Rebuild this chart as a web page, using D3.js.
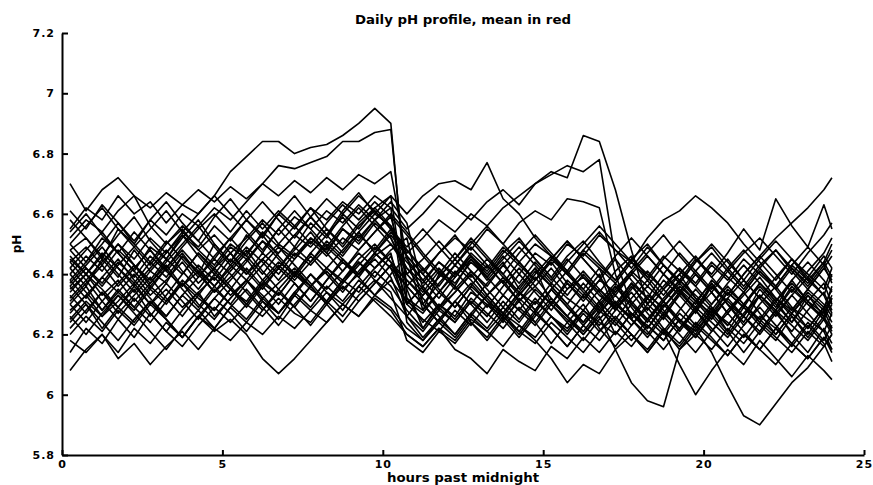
<!DOCTYPE html>
<html>
<head>
<meta charset="utf-8">
<script src="https://cdn.jsdelivr.net/npm/d3@7"></script>
<style>
body { margin: 0; background: #fff; }
</style>
</head>
<body>
<script>
// sample times (hours past midnight)
var hours = [0.25,0.75,1.25,1.75,2.25,2.75,3.25,3.75,4.25,4.75,
  5.25,5.75,6.25,6.75,7.25,7.75,8.25,8.75,9.25,9.75,
  10.25,10.75,11.25,11.75,12.25,12.75,13.25,13.75,14.25,14.75,
  15.25,15.75,16.25,16.75,17.25,17.75,18.25,18.75,19.25,19.75,
  20.25,20.75,21.25,21.75,22.25,22.75,23.25,23.75,24];

// one pH profile per day
var d01 = [6.55,6.62,6.58,6.66,6.60,6.64,6.57,6.63,6.60,6.66,6.74,6.79,6.84,6.84,6.80,6.82,6.83,6.86,6.90,6.95,6.90,6.32,6.28,6.40,6.36,6.45,6.38,6.44,6.35,6.42,6.30,6.38,6.33,6.40,6.28,6.36,6.30,6.25,6.34,6.28,6.37,6.30,6.26,6.35,6.29,6.38,6.31,6.27,6.33];
var d02 = [6.48,6.52,6.45,6.55,6.50,6.58,6.53,6.60,6.56,6.62,6.58,6.64,6.70,6.76,6.75,6.77,6.79,6.84,6.84,6.87,6.88,6.35,6.22,6.30,6.26,6.34,6.30,6.24,6.32,6.27,6.35,6.29,6.24,6.31,6.20,6.27,6.22,6.30,6.24,6.19,6.27,6.21,6.29,6.23,6.18,6.26,6.20,6.28,6.22];
var d03 = [6.30,6.36,6.28,6.34,6.40,6.33,6.38,6.44,6.37,6.42,6.47,6.40,6.45,6.50,6.46,6.52,6.48,6.55,6.51,6.58,6.62,6.55,6.60,6.66,6.62,6.58,6.64,6.68,6.63,6.70,6.74,6.72,6.86,6.84,6.68,6.48,6.30,6.38,6.33,6.27,6.36,6.30,6.24,6.33,6.28,6.36,6.30,6.26,6.32];
var d04 = [6.42,6.36,6.45,6.39,6.48,6.41,6.37,6.46,6.40,6.50,6.44,6.53,6.47,6.55,6.49,6.57,6.52,6.60,6.55,6.62,6.66,6.60,6.66,6.70,6.71,6.68,6.77,6.65,6.60,6.52,6.46,6.40,6.35,6.42,6.30,6.37,6.28,6.35,6.40,6.32,6.26,6.34,6.29,6.37,6.31,6.24,6.33,6.28,6.36];
var d05 = [6.35,6.40,6.33,6.38,6.31,6.37,6.43,6.36,6.41,6.34,6.39,6.45,6.38,6.44,6.40,6.47,6.42,6.38,6.45,6.50,6.44,6.30,6.36,6.29,6.34,6.40,6.33,6.38,6.31,6.36,6.42,6.35,6.39,6.33,6.29,6.37,6.32,6.40,6.35,6.30,6.38,6.33,6.40,6.46,6.52,6.57,6.62,6.68,6.72];
var d06 = [6.50,6.44,6.52,6.47,6.41,6.49,6.45,6.53,6.48,6.43,6.50,6.46,6.54,6.49,6.45,6.52,6.47,6.55,6.50,6.57,6.52,6.40,6.34,6.41,6.37,6.44,6.39,6.46,6.40,6.47,6.43,6.50,6.46,6.53,6.48,6.44,6.52,6.58,6.61,6.66,6.62,6.57,6.50,6.44,6.38,6.45,6.40,6.35,6.42];
var d07 = [6.28,6.33,6.26,6.31,6.37,6.30,6.35,6.29,6.34,6.39,6.33,6.38,6.32,6.37,6.42,6.36,6.41,6.35,6.40,6.45,6.39,6.26,6.21,6.28,6.24,6.31,6.26,6.33,6.28,6.35,6.30,6.37,6.32,6.38,6.34,6.41,6.36,6.43,6.38,6.45,6.40,6.47,6.55,6.48,6.65,6.56,6.49,6.63,6.55];
var d08 = [6.08,6.15,6.20,6.14,6.22,6.17,6.24,6.19,6.26,6.21,6.25,6.20,6.12,6.07,6.12,6.18,6.24,6.30,6.26,6.33,6.38,6.31,6.27,6.34,6.29,6.36,6.31,6.27,6.34,6.30,6.37,6.32,6.28,6.35,6.30,6.26,6.33,6.29,6.36,6.31,6.27,6.34,6.29,6.25,6.32,6.28,6.35,6.30,6.26];
var d09 = [6.25,6.31,6.26,6.33,6.28,6.35,6.30,6.37,6.32,6.28,6.35,6.31,6.38,6.33,6.40,6.36,6.42,6.37,6.44,6.39,6.46,6.32,6.24,6.30,6.25,6.32,6.27,6.22,6.29,6.24,6.31,6.26,6.21,6.28,6.23,6.30,6.25,6.20,6.27,6.22,6.14,6.03,5.93,5.90,5.97,6.04,6.09,6.16,6.20];
var d10 = [6.38,6.32,6.39,6.34,6.29,6.36,6.31,6.38,6.33,6.28,6.35,6.30,6.37,6.33,6.40,6.35,6.31,6.38,6.34,6.41,6.36,6.28,6.22,6.29,6.24,6.31,6.26,6.33,6.28,6.23,6.30,6.25,6.20,6.26,6.15,6.04,5.98,5.96,6.15,6.20,6.28,6.23,6.30,6.25,6.20,6.27,6.22,6.29,6.24];
var d11 = [6.45,6.40,6.47,6.42,6.37,6.44,6.39,6.46,6.41,6.36,6.43,6.38,6.45,6.40,6.47,6.43,6.49,6.44,6.40,6.47,6.42,6.30,6.25,6.21,6.28,6.23,6.30,6.26,6.20,6.27,6.22,6.16,6.23,6.18,6.25,6.20,6.14,6.21,6.10,6.00,6.08,6.15,6.10,6.18,6.12,6.06,6.13,6.08,6.05];
var d12 = [6.20,6.26,6.21,6.28,6.23,6.30,6.25,6.19,6.26,6.22,6.29,6.24,6.31,6.27,6.33,6.28,6.34,6.30,6.36,6.31,6.26,6.20,6.16,6.22,6.15,6.12,6.07,6.15,6.11,6.08,6.16,6.12,6.19,6.14,6.21,6.16,6.23,6.18,6.25,6.20,6.15,6.22,6.17,6.24,6.19,6.14,6.21,6.16,6.20];
var d13 = [6.33,6.27,6.34,6.29,6.24,6.31,6.26,6.33,6.28,6.35,6.30,6.25,6.32,6.27,6.34,6.29,6.36,6.31,6.38,6.33,6.29,6.22,6.18,6.24,6.19,6.26,6.21,6.16,6.23,6.18,6.12,6.04,6.10,6.07,6.15,6.20,6.14,6.21,6.16,6.23,6.18,6.13,6.20,6.15,6.22,6.17,6.12,6.19,6.14];
var d14 = [6.18,6.14,6.20,6.12,6.17,6.10,6.16,6.21,6.15,6.22,6.18,6.24,6.20,6.26,6.22,6.28,6.24,6.30,6.26,6.32,6.28,6.20,6.16,6.22,6.18,6.25,6.21,6.27,6.23,6.19,6.26,6.22,6.28,6.24,6.20,6.27,6.23,6.18,6.25,6.21,6.28,6.24,6.19,6.26,6.22,6.29,6.25,6.21,6.27];
var d15 = [6.70,6.61,6.68,6.72,6.66,6.56,6.50,6.55,6.48,6.53,6.47,6.52,6.58,6.53,6.59,6.55,6.61,6.57,6.63,6.58,6.52,6.42,6.37,6.44,6.39,6.46,6.41,6.48,6.43,6.38,6.45,6.40,6.47,6.42,6.37,6.44,6.39,6.46,6.41,6.36,6.43,6.38,6.45,6.40,6.35,6.42,6.37,6.44,6.39];
var d16 = [6.52,6.58,6.54,6.61,6.66,6.62,6.67,6.63,6.68,6.64,6.69,6.65,6.70,6.66,6.71,6.67,6.72,6.68,6.73,6.70,6.74,6.45,6.38,6.44,6.40,6.47,6.42,6.49,6.44,6.50,6.46,6.41,6.48,6.43,6.38,6.45,6.40,6.35,6.42,6.37,6.44,6.39,6.34,6.41,6.36,6.43,6.38,6.33,6.40];
var d17 = [6.40,6.46,6.41,6.48,6.43,6.38,6.45,6.40,6.47,6.42,6.49,6.45,6.51,6.47,6.53,6.49,6.55,6.50,6.57,6.62,6.56,6.47,6.52,6.58,6.54,6.60,6.56,6.62,6.66,6.70,6.73,6.76,6.74,6.78,6.45,6.30,6.36,6.31,6.38,6.33,6.28,6.35,6.30,6.37,6.32,6.27,6.34,6.29,6.31];
var d18 = [6.36,6.42,6.37,6.44,6.39,6.46,6.41,6.36,6.43,6.38,6.45,6.40,6.47,6.42,6.49,6.44,6.51,6.46,6.53,6.48,6.55,6.46,6.40,6.47,6.52,6.48,6.55,6.50,6.57,6.61,6.58,6.65,6.64,6.62,6.40,6.25,6.32,6.27,6.34,6.29,6.36,6.31,6.26,6.33,6.28,6.35,6.30,6.25,6.30];
var d19 = [6.44,6.49,6.43,6.50,6.45,6.52,6.47,6.54,6.49,6.56,6.51,6.58,6.53,6.60,6.55,6.62,6.58,6.64,6.60,6.66,6.62,6.24,6.18,6.25,6.20,6.27,6.22,6.29,6.24,6.31,6.26,6.21,6.28,6.23,6.30,6.25,6.20,6.27,6.22,6.29,6.24,6.19,6.26,6.21,6.28,6.23,6.18,6.25,6.20];
var d20 = [6.22,6.28,6.34,6.27,6.33,6.39,6.32,6.26,6.33,6.40,6.35,6.29,6.36,6.42,6.37,6.31,6.38,6.44,6.39,6.46,6.50,6.42,6.35,6.28,6.34,6.40,6.33,6.27,6.34,6.41,6.36,6.30,6.37,6.31,6.25,6.32,6.38,6.31,6.24,6.31,6.37,6.30,6.23,6.30,6.36,6.29,6.22,6.29,6.35];
var d21 = [6.58,6.52,6.46,6.53,6.59,6.51,6.45,6.52,6.58,6.50,6.44,6.51,6.57,6.50,6.56,6.62,6.55,6.49,6.56,6.61,6.55,6.48,6.41,6.47,6.53,6.46,6.40,6.47,6.52,6.45,6.39,6.46,6.51,6.44,6.38,6.45,6.50,6.43,6.37,6.44,6.49,6.42,6.36,6.43,6.48,6.41,6.35,6.42,6.46];
var d22 = [6.40,6.34,6.28,6.35,6.29,6.24,6.31,6.37,6.30,6.25,6.32,6.38,6.33,6.27,6.34,6.40,6.35,6.41,6.47,6.42,6.48,6.52,6.30,6.24,6.31,6.26,6.33,6.39,6.34,6.28,6.35,6.29,6.23,6.30,6.36,6.29,6.22,6.29,6.35,6.28,6.21,6.28,6.34,6.27,6.20,6.27,6.33,6.26,6.21];
var d23 = [6.32,6.38,6.44,6.50,6.43,6.37,6.44,6.50,6.56,6.49,6.43,6.49,6.44,6.38,6.45,6.51,6.46,6.52,6.48,6.54,6.59,6.53,6.46,6.40,6.47,6.41,6.36,6.43,6.37,6.44,6.38,6.45,6.39,6.34,6.41,6.46,6.39,6.33,6.40,6.46,6.39,6.45,6.38,6.32,6.39,6.45,6.38,6.44,6.50];
var d24 = [6.46,6.40,6.35,6.29,6.36,6.42,6.48,6.41,6.35,6.42,6.36,6.30,6.37,6.43,6.38,6.44,6.50,6.45,6.40,6.47,6.42,6.36,6.30,6.37,6.43,6.38,6.32,6.26,6.33,6.39,6.32,6.26,6.33,6.27,6.34,6.40,6.34,6.28,6.21,6.28,6.34,6.27,6.33,6.39,6.32,6.26,6.19,6.26,6.32];
var d25 = [6.27,6.33,6.39,6.45,6.38,6.32,6.26,6.33,6.39,6.45,6.40,6.34,6.28,6.35,6.41,6.36,6.30,6.37,6.43,6.49,6.44,6.38,6.33,6.39,6.45,6.39,6.45,6.40,6.34,6.28,6.35,6.41,6.35,6.29,6.36,6.30,6.24,6.31,6.37,6.31,6.25,6.32,6.38,6.32,6.26,6.33,6.39,6.33,6.27];
var d26 = [6.54,6.60,6.53,6.47,6.54,6.48,6.42,6.49,6.55,6.60,6.54,6.61,6.55,6.61,6.56,6.50,6.57,6.63,6.58,6.64,6.59,6.40,6.45,6.51,6.45,6.52,6.46,6.40,6.47,6.53,6.47,6.41,6.48,6.54,6.48,6.42,6.49,6.43,6.37,6.44,6.50,6.44,6.38,6.45,6.51,6.45,6.39,6.46,6.42];
var d27 = [6.36,6.30,6.24,6.18,6.25,6.31,6.25,6.19,6.26,6.32,6.27,6.21,6.28,6.34,6.29,6.23,6.30,6.36,6.31,6.37,6.43,6.38,6.32,6.26,6.20,6.27,6.33,6.27,6.21,6.28,6.22,6.16,6.23,6.29,6.24,6.18,6.25,6.31,6.25,6.19,6.26,6.32,6.26,6.20,6.27,6.33,6.27,6.21,6.15];
var d28 = [6.50,6.56,6.62,6.55,6.49,6.43,6.50,6.56,6.51,6.45,6.52,6.58,6.64,6.58,6.52,6.59,6.65,6.60,6.66,6.61,6.55,6.49,6.55,6.49,6.43,6.50,6.56,6.50,6.44,6.38,6.45,6.51,6.45,6.39,6.46,6.52,6.46,6.40,6.47,6.41,6.35,6.42,6.48,6.42,6.36,6.43,6.49,6.43,6.48];
var d29 = [6.30,6.24,6.31,6.37,6.43,6.36,6.42,6.35,6.29,6.36,6.42,6.48,6.41,6.35,6.29,6.36,6.42,6.48,6.54,6.47,6.53,6.46,6.28,6.34,6.40,6.46,6.39,6.45,6.51,6.45,6.39,6.33,6.40,6.34,6.28,6.35,6.41,6.35,6.29,6.23,6.30,6.36,6.30,6.24,6.31,6.37,6.31,6.25,6.22];
var d30 = [6.42,6.48,6.54,6.47,6.41,6.35,6.42,6.48,6.42,6.36,6.30,6.37,6.43,6.49,6.43,6.37,6.31,6.38,6.44,6.38,6.32,6.26,6.33,6.39,6.45,6.51,6.45,6.39,6.33,6.40,6.46,6.40,6.34,6.28,6.35,6.41,6.47,6.53,6.46,6.40,6.34,6.41,6.47,6.52,6.46,6.40,6.47,6.53,6.57];
var d31 = [6.34,6.40,6.46,6.40,6.34,6.41,6.47,6.53,6.46,6.40,6.47,6.41,6.35,6.42,6.48,6.54,6.47,6.41,6.48,6.54,6.60,6.54,6.47,6.41,6.35,6.41,6.35,6.29,6.36,6.42,6.36,6.30,6.24,6.31,6.37,6.31,6.25,6.32,6.38,6.32,6.26,6.20,6.27,6.33,6.27,6.21,6.28,6.34,6.28];
var d32 = [6.26,6.20,6.27,6.33,6.27,6.21,6.15,6.22,6.28,6.22,6.29,6.35,6.29,6.23,6.30,6.36,6.30,6.24,6.31,6.37,6.43,6.36,6.30,6.24,6.31,6.37,6.31,6.25,6.19,6.26,6.32,6.26,6.20,6.27,6.33,6.27,6.21,6.15,6.22,6.28,6.22,6.16,6.23,6.29,6.23,6.17,6.24,6.18,6.23];
var d33 = [6.48,6.42,6.36,6.43,6.49,6.55,6.61,6.54,6.60,6.66,6.60,6.54,6.48,6.55,6.61,6.55,6.49,6.56,6.62,6.56,6.50,6.44,6.38,6.32,6.39,6.45,6.39,6.33,6.40,6.34,6.28,6.35,6.41,6.35,6.29,6.23,6.30,6.36,6.42,6.36,6.30,6.37,6.43,6.37,6.31,6.38,6.44,6.38,6.34];
var d34 = [6.14,6.22,6.17,6.25,6.19,6.27,6.21,6.16,6.23,6.29,6.24,6.30,6.26,6.32,6.27,6.24,6.31,6.26,6.33,6.38,6.34,6.18,6.14,6.21,6.17,6.24,6.19,6.26,6.21,6.17,6.24,6.19,6.14,6.21,6.26,6.20,6.15,6.22,6.17,6.24,6.19,6.13,6.20,6.15,6.10,6.17,6.12,6.19,6.15];
var d35 = [6.38,6.44,6.50,6.57,6.50,6.44,6.51,6.45,6.39,6.46,6.52,6.46,6.40,6.47,6.53,6.59,6.53,6.47,6.54,6.60,6.66,6.30,6.36,6.42,6.36,6.30,6.37,6.43,6.49,6.43,6.37,6.44,6.50,6.56,6.50,6.44,6.38,6.45,6.51,6.45,6.39,6.33,6.40,6.46,6.40,6.34,6.41,6.47,6.52];
var d36 = [6.24,6.30,6.22,6.29,6.35,6.27,6.21,6.28,6.34,6.26,6.32,6.38,6.31,6.25,6.33,6.40,6.34,6.28,6.36,6.42,6.47,6.26,6.19,6.25,6.31,6.24,6.18,6.25,6.31,6.24,6.17,6.24,6.30,6.22,6.16,6.23,6.29,6.22,6.15,6.22,6.29,6.21,6.14,6.21,6.28,6.20,6.14,6.22,6.17];
var d37 = [6.61,6.55,6.63,6.57,6.51,6.58,6.64,6.57,6.51,6.59,6.65,6.58,6.52,6.60,6.66,6.59,6.53,6.61,6.67,6.60,6.56,6.36,6.42,6.35,6.29,6.36,6.43,6.37,6.31,6.38,6.44,6.37,6.31,6.38,6.45,6.38,6.32,6.26,6.33,6.40,6.34,6.27,6.34,6.41,6.35,6.28,6.35,6.42,6.38];
var d38 = [6.31,6.37,6.43,6.36,6.42,6.48,6.41,6.47,6.40,6.34,6.41,6.47,6.53,6.46,6.40,6.47,6.53,6.59,6.52,6.58,6.64,6.57,6.35,6.29,6.36,6.30,6.24,6.31,6.25,6.32,6.26,6.20,6.27,6.21,6.28,6.34,6.27,6.21,6.28,6.35,6.29,6.23,6.30,6.36,6.30,6.24,6.31,6.37,6.30];
var d39 = [6.44,6.38,6.31,6.25,6.32,6.26,6.33,6.40,6.47,6.41,6.35,6.42,6.36,6.30,6.37,6.31,6.38,6.45,6.39,6.33,6.40,6.46,6.40,6.34,6.41,6.35,6.29,6.36,6.42,6.36,6.30,6.24,6.18,6.25,6.31,6.25,6.19,6.26,6.20,6.14,6.21,6.27,6.21,6.15,6.22,6.16,6.23,6.17,6.11];
var d40 = [6.37,6.43,6.49,6.42,6.36,6.30,6.37,6.31,6.25,6.32,6.38,6.44,6.51,6.45,6.39,6.46,6.40,6.34,6.41,6.47,6.54,6.48,6.42,6.36,6.43,6.49,6.43,6.37,6.44,6.38,6.45,6.51,6.45,6.39,6.33,6.40,6.46,6.40,6.34,6.41,6.47,6.41,6.35,6.42,6.48,6.42,6.36,6.43,6.37];

var profiles = [d01,d02,d03,d04,d05,d06,d07,d08,d09,d10,d11,d12,d13,d14,d15,d16,d17,d18,d19,d20,
  d21,d22,d23,d24,d25,d26,d27,d28,d29,d30,d31,d32,d33,d34,d35,d36,d37,d38,d39,d40];

var xTicks = [0, 5, 10, 15, 20, 25];
var yTicks = [5.8, 6, 6.2, 6.4, 6.6, 6.8, 7, 7.2];

var width = 873, height = 485;
var margin = { top: 33, right: 9, bottom: 30, left: 62 };

var svg = d3.select("body").append("svg")
  .attr("width", width)
  .attr("height", height)
  .style("display", "block");

var x = d3.scaleLinear().domain([0, 25]).range([margin.left, width - margin.right]);
var y = d3.scaleLinear().domain([5.8, 7.2]).range([height - margin.bottom, margin.top]);

var line = d3.line()
  .x(function (d, i) { return x(hours[i]); })
  .y(function (d) { return y(d); });

// profiles
svg.append("g")
  .selectAll("path")
  .data(profiles)
  .enter().append("path")
  .attr("d", line)
  .attr("fill", "none")
  .attr("stroke", "#000")
  .attr("stroke-width", 1.6)
  .attr("stroke-linejoin", "round");

// axes, ticks point inward like the original
var xAxis = svg.append("g")
  .attr("transform", "translate(0," + y(5.8) + ")")
  .call(d3.axisBottom(x).tickValues(xTicks).tickSizeInner(-5).tickSizeOuter(0).tickPadding(5)
    .tickFormat(function (d) { return d; }));

var yAxis = svg.append("g")
  .attr("transform", "translate(" + x(0) + ",0)")
  .call(d3.axisLeft(y).tickValues(yTicks).tickSizeInner(-6).tickSizeOuter(0).tickPadding(7)
    .tickFormat(function (d) { return d; }));

[xAxis, yAxis].forEach(function (a) {
  a.select(".domain").attr("stroke", "#000").attr("stroke-width", 2);
  a.selectAll(".tick line").attr("stroke", "#000").attr("stroke-width", 2);
  a.selectAll(".tick text")
    .attr("fill", "#000")
    .style("font-family", "'DejaVu Sans', sans-serif")
    .style("font-weight", "bold")
    .style("font-size", "11px")
    .style("letter-spacing", "1px");
});

// title and labels
svg.append("text")
  .attr("x", (x(0) + x(25)) / 2)
  .attr("y", 24)
  .attr("text-anchor", "middle")
  .attr("textLength", 216)
  .attr("lengthAdjust", "spacingAndGlyphs")
  .style("font-family", "'DejaVu Sans', sans-serif")
  .style("font-weight", "bold")
  .style("font-size", "12px")
  .text("Daily pH profile, mean in red");

svg.append("text")
  .attr("x", (x(0) + x(25)) / 2)
  .attr("y", 482)
  .attr("text-anchor", "middle")
  .attr("textLength", 152)
  .attr("lengthAdjust", "spacingAndGlyphs")
  .style("font-family", "'DejaVu Sans', sans-serif")
  .style("font-weight", "bold")
  .style("font-size", "12px")
  .text("hours past midnight");

svg.append("text")
  .attr("transform", "translate(21,244) rotate(-90)")
  .attr("text-anchor", "middle")
  .style("font-family", "'DejaVu Sans', sans-serif")
  .style("font-weight", "bold")
  .style("font-size", "12px")
  .text("pH");
</script>
</body>
</html>
